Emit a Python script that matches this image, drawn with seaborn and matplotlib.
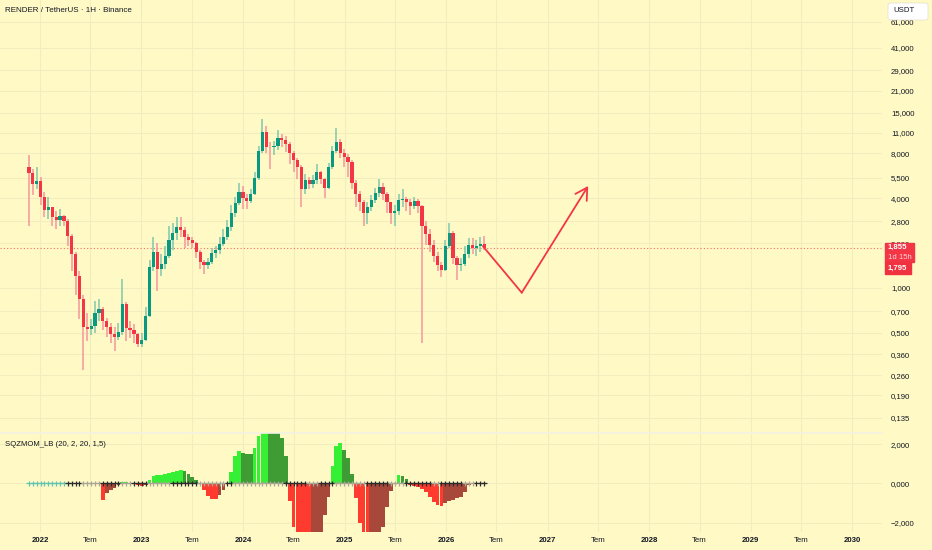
import matplotlib
matplotlib.use('Agg')
import matplotlib.pyplot as plt
import matplotlib.dates as mdates
from matplotlib.patches import Rectangle, FancyBboxPatch
from matplotlib.ticker import FixedLocator, NullLocator, FuncFormatter
import seaborn as sns
import numpy as np
import pandas as pd

# ---- data (two-week candles) ----
start_date = '2021-11-22'
first_open = 6.5
closes = [5.9, 5.0, 5.2, 4.1, 3.35, 3.5, 3.0, 2.85, 3.05, 2.8,
          2.25, 1.7, 1.2, 0.85, 0.55, 0.53, 0.56, 0.68, 0.72, 0.6,
          0.55, 0.49, 0.47, 0.51, 0.78, 0.54, 0.52, 0.49, 0.42, 0.45,
          0.65, 1.38, 1.75, 1.35, 1.45, 1.65, 2.1, 2.35, 2.55, 2.45,
          2.2, 2.1, 2.0, 1.75, 1.5, 1.42, 1.5, 1.72, 1.8, 1.98,
          2.2, 2.55, 3.2, 3.7, 4.4, 4.0, 3.85, 4.3, 5.5, 8.3,
          11.2, 8.9, 8.8, 9.0, 10.2, 9.9, 9.3, 8.0, 7.2, 6.5,
          4.6, 5.3, 5.0, 5.3, 6.0, 5.4, 4.7, 6.5, 8.3, 9.5,
          8.1, 7.6, 7.0, 5.1, 4.3, 3.75, 3.2, 3.5, 3.9, 4.35,
          4.75, 4.3, 3.75, 3.2, 3.3, 3.9, 3.95, 3.75, 3.55, 3.85,
          3.55, 2.6, 2.3, 1.95, 1.65, 1.42, 1.32, 1.9, 2.35, 1.6,
          1.42, 1.46, 1.7, 1.95, 1.85, 1.9, 1.98, 1.855]
highs = [7.8, 6.3, 6.5, 5.6, 4.4, 4.1, 3.5, 3.3, 3.4, 3.1,
         2.9, 2.3, 1.75, 1.3, 0.9, 0.68, 0.62, 0.82, 0.84, 0.74,
         0.63, 0.58, 0.55, 0.58, 1.15, 0.8, 0.6, 0.57, 0.5, 0.5,
         0.75, 1.55, 2.2, 2.0, 1.7, 1.9, 2.6, 2.75, 3.0, 3.0,
         2.55, 2.3, 2.2, 2.05, 1.8, 1.55, 1.6, 1.85, 1.9, 2.2,
         2.5, 2.85, 3.6, 4.1, 5.1, 4.8, 4.3, 4.6, 6.0, 9.0,
         13.6, 12.2, 9.6, 9.7, 11.5, 10.8, 10.4, 9.5, 8.3, 7.4,
         6.7, 5.8, 5.6, 5.7, 6.8, 6.1, 5.5, 6.9, 9.0, 11.9,
         10.0, 8.6, 7.9, 7.2, 5.3, 4.5, 3.9, 3.8, 4.2, 4.7,
         5.4, 5.1, 4.4, 3.8, 3.6, 4.3, 4.6, 4.1, 3.95, 4.05,
         3.95, 3.6, 2.8, 2.5, 2.1, 1.75, 1.5, 2.1, 2.75, 2.4,
         1.65, 1.6, 1.9, 2.15, 2.15, 2.1, 2.2, 2.25]
lows = [2.6, 4.2, 4.6, 3.6, 3.0, 2.9, 2.6, 2.5, 2.6, 2.6,
        1.9, 1.3, 0.9, 0.62, 0.28, 0.44, 0.48, 0.5, 0.6, 0.52,
        0.47, 0.43, 0.38, 0.45, 0.48, 0.44, 0.46, 0.43, 0.4, 0.4,
        0.44, 0.64, 1.3, 0.95, 1.2, 1.35, 1.6, 1.8, 2.1, 2.2,
        1.85, 1.9, 1.85, 1.6, 1.35, 1.25, 1.35, 1.45, 1.6, 1.7,
        1.9, 2.1, 2.4, 3.0, 3.6, 3.4, 3.4, 3.7, 4.2, 5.3,
        8.0, 8.0, 6.3, 7.8, 8.5, 8.8, 8.2, 6.8, 6.0, 5.4,
        3.5, 4.3, 4.6, 4.7, 5.0, 5.0, 4.0, 4.6, 6.3, 8.0,
        7.4, 6.5, 5.6, 4.6, 3.5, 3.3, 2.6, 2.7, 3.3, 3.7,
        4.1, 3.9, 3.2, 2.7, 2.6, 3.1, 3.5, 3.3, 3.1, 3.4,
        3.2, 0.43, 1.95, 1.75, 1.5, 1.3, 1.18, 1.3, 1.85, 1.45,
        1.13, 1.3, 1.4, 1.6, 1.7, 1.65, 1.75, 1.8]
momentum = [0, 0, 0, 0, 0, 0, 0, 0, 0, 0,
            0, 0, 0, 0, 0, 0, 0, 0, 0, -0.85,
            -0.5, -0.35, -0.22, -0.08, 0.05, 0.07, 0.04, -0.05, -0.1, -0.12,
            -0.06, 0.17, 0.37, 0.42, 0.45, 0.47, 0.52, 0.6, 0.65, 0.68,
            0.62, 0.5, 0.35, 0.15, -0.05, -0.35, -0.62, -0.78, -0.8, -0.6,
            -0.35, -0.05, 0.6, 1.4, 1.67, 1.56, 1.52, 1.5, 1.8, 2.4,
            3.0, 3.2, 3.1, 3.0, 2.8, 2.3, 1.4, -0.9, -2.2, -3.0,
            -3.4, -3.6, -3.7, -3.5, -3.1, -2.6, -1.6, -0.7, 0.9, 1.9,
            2.05, 1.7, 1.3, 0.5, -0.75, -2.0, -3.0, -3.3, -3.2, -3.0,
            -2.7, -2.2, -1.2, -0.4, -0.05, 0.43, 0.38, 0.2, -0.08, -0.12,
            -0.18, -0.3, -0.45, -0.68, -0.95, -1.12, -1.16, -1.0, -0.9, -0.83,
            -0.76, -0.68, -0.45, -0.1, 0.03, 0.04, 0.03, 0.02]
# squeeze state runs: n = no squeeze, on = squeeze on, off = squeeze off
squeeze_runs = [('n', 10), ('on', 4), ('off', 5), ('on', 5), ('off', 3), ('on', 4),
                ('off', 6), ('on', 7), ('off', 7), ('on', 2), ('off', 13), ('on', 6),
                ('off', 3), ('on', 4), ('off', 8), ('on', 6), ('off', 4), ('on', 7),
                ('off', 2), ('on', 6), ('off', 3), ('on', 3)]
prev_label = 1.795
countdown = '1d 15h'

arrow_dates = ['2026-05-13', '2026-09-30', '2027-05-27']
arrow_prices = [1.91, 0.93, 4.84]

price_ticks = [0.135, 0.19, 0.26, 0.36, 0.5, 0.7, 1.0, 2.0, 2.8, 4.0, 5.5,
               8.0, 11.0, 15.0, 21.0, 29.0, 41.0, 61.0]
mom_ticks = [-2, 0, 2]
years = list(range(2022, 2031))

# ---- colours ----
bg = '#FFF9C6'
grid_c = '#F2ECBE'
up_c, down_c = '#089981', '#F23645'
up_wick, down_wick = '#80C8AC', '#F5979D'
txt_c = '#131722'
fs = 5.6

sns.set_theme(style='white', rc={'axes.facecolor': bg, 'figure.facecolor': bg})
plt.rcParams['font.family'] = ['Liberation Sans', 'DejaVu Sans']

dates = pd.date_range(start_date, periods=len(closes), freq='14D')
x = mdates.date2num(dates)
c = np.array(closes)
o = np.array([first_open] + closes[:-1])
rising = c >= o

fig = plt.figure(figsize=(9.32, 5.5), dpi=100)
ax = fig.add_axes([0, 118 / 550, 882 / 932, 432 / 550])
axm = fig.add_axes([0, 18 / 550, 882 / 932, 99 / 550], sharex=ax)

# candles
ax.vlines(x, lows, highs, colors=np.where(rising, up_wick, down_wick), lw=1.1, zorder=2)
ax.bar(x, np.abs(c - o), bottom=np.minimum(o, c), width=11.5,
       color=np.where(rising, up_c, down_c), linewidth=0, zorder=3)
ax.axhline(closes[-1], color=down_c, ls=(0, (1, 2)), lw=0.8, alpha=0.7, zorder=1)

# hand-drawn projection
ad = mdates.date2num(pd.to_datetime(arrow_dates))
sns.lineplot(x=ad[:2], y=arrow_prices[:2], ax=ax, color='#F23645', lw=1.3, sort=False)
ax.annotate('', xy=(ad[2], arrow_prices[2]), xytext=(ad[1], arrow_prices[1]),
            arrowprops=dict(arrowstyle='->,head_length=0.7,head_width=0.4',
                            color='#F23645', lw=1.3, shrinkA=0, shrinkB=0))

ax.set_yscale('log')
ax.set_ylim(0.108, 85.7)
ax.yaxis.set_major_locator(FixedLocator(price_ticks))
ax.yaxis.set_minor_locator(NullLocator())
fmt = FuncFormatter(lambda v, p: f'{v:.3f}'.replace('.', ',').replace('-', '\u2212'))
ax.yaxis.set_major_formatter(fmt)
ax.yaxis.tick_right()
ax.tick_params(axis='y', length=0, pad=6.5, labelsize=fs, labelcolor=txt_c)
ax.tick_params(axis='x', length=0, labelbottom=False)

# momentum histogram
mom = np.array(momentum)
prev = np.concatenate([[0.0], mom[:-1]])
mom_cols = np.where(mom >= 0, np.where(mom > prev, '#36F036', '#3F9B34'),
                    np.where(mom < prev, '#FF3B2F', '#A8483A'))
axm.bar(x, mom, width=13.5, color=mom_cols, linewidth=0, zorder=2)
states = [s for s, n in squeeze_runs for _ in range(n)]
sns.scatterplot(x=x, y=np.zeros(len(x)), hue=states, ax=axm, marker='+', s=16,
                linewidth=0.9, legend=False, zorder=3,
                palette={'n': '#5FC4B0', 'on': '#2B2B2B', 'off': '#A9A793'})
axm.set_ylim(-2.48, 2.57)
axm.set_yticks(mom_ticks)
axm.yaxis.set_major_formatter(fmt)
axm.yaxis.tick_right()
axm.tick_params(axis='y', length=0, pad=6.5, labelsize=fs, labelcolor=txt_c)

tick_dates, tick_labels = [], []
for yr in years:
    tick_dates.append(pd.Timestamp(f'{yr}-01-01'))
    tick_labels.append(str(yr))
    if yr < years[-1]:
        tick_dates.append(pd.Timestamp(f'{yr}-07-01'))
        tick_labels.append('Tem')
axm.set_xticks(mdates.date2num(tick_dates))
axm.set_xticklabels(tick_labels)
for lab in axm.get_xticklabels():
    lab.set_fontweight('bold' if lab.get_text() != 'Tem' else 'normal')
axm.tick_params(axis='x', length=0, pad=3.5, labelsize=fs, labelcolor=txt_c)
axm.set_xlim(mdates.date2num(pd.Timestamp('2021-08-10')),
             mdates.date2num(pd.Timestamp('2030-04-18')))

for a in (ax, axm):
    a.grid(True, color=grid_c, lw=0.8)
    a.set_axisbelow(True)
    for sp in a.spines.values():
        sp.set_visible(False)
axm.spines['top'].set_visible(True)
axm.spines['top'].set_color('#F4F1E4')
axm.spines['top'].set_linewidth(1.2)

# labels
fig.text(5 / 932, 1 - 11 / 550, 'RENDER / TetherUS \u00b7 1H \u00b7 Binance',
         fontsize=5.8, color=txt_c, va='center')
fig.text(5 / 932, 1 - 444 / 550, 'SQZMOM_LB (20, 2, 20, 1,5)',
         fontsize=fs, color=txt_c, va='center')

# price tags on the scale
py = ax.transData.transform((x[-1], closes[-1]))[1]
fig.add_artist(Rectangle((885 / 932, (py - 14) / 550), 29 / 932, 19 / 550,
                         transform=fig.transFigure, color='#F23645', zorder=5))
fig.add_artist(Rectangle((885 / 932, (py - 26) / 550), 26 / 932, 12 / 550,
                         transform=fig.transFigure, color='#F0313F', zorder=5))
fig.text(888 / 932, (py + 1) / 550, f'{closes[-1]:.3f}'.replace('.', ','),
         fontsize=fs, color='white', weight='bold', va='center', zorder=6)
fig.text(888 / 932, (py - 9) / 550, countdown,
         fontsize=fs, color='#FFD3D6', va='center', zorder=6)
fig.text(888 / 932, (py - 20) / 550, f'{prev_label:.3f}'.replace('.', ','),
         fontsize=fs, color='white', weight='bold', va='center', zorder=6)

fig.add_artist(FancyBboxPatch((888 / 932, 530 / 550), 40 / 932, 17 / 550,
                              boxstyle='round,pad=0,rounding_size=0.004',
                              transform=fig.transFigure, fc='white', ec='#E3DFCF',
                              lw=0.5, zorder=5))
fig.text(893 / 932, 539 / 550, 'USDT', fontsize=fs, color=txt_c, va='center', zorder=6)

fig.savefig('out.png', dpi=100, facecolor=bg)
plt.close(fig)
